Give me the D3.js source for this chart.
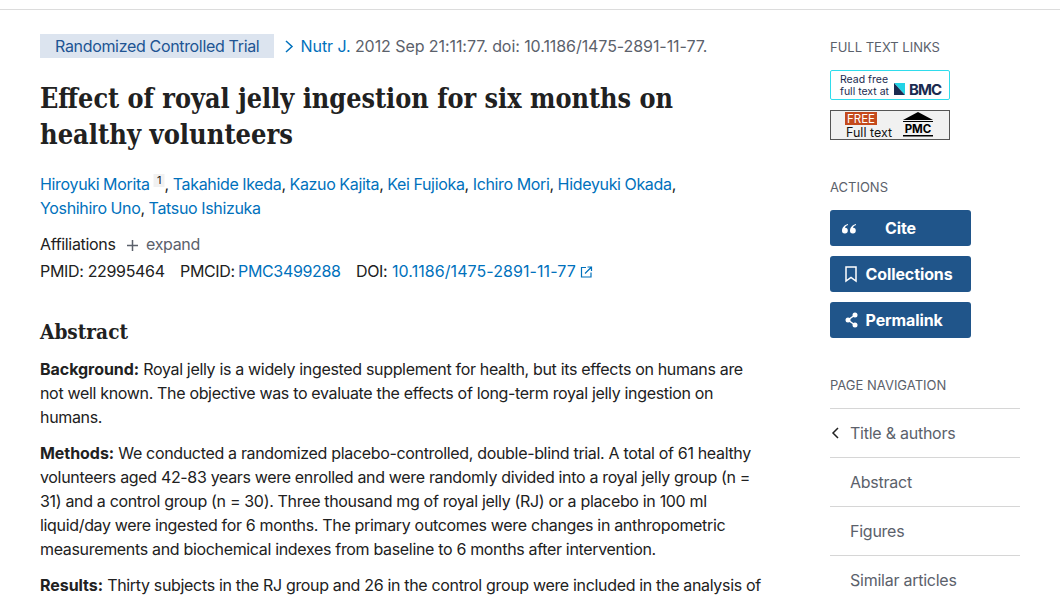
<!DOCTYPE html>
<html>
<head>
<meta charset="utf-8">
<script src="https://cdn.jsdelivr.net/npm/d3@7"></script>
<style>
html, body { margin: 0; padding: 0; background: #fff; overflow: hidden; }
text { font-family: Inter, "Noto Sans", sans-serif; font-size: 16px; fill: #212121; letter-spacing: -0.33px; }
.link { fill: #0071bc; }
.muted { fill: #5b616b; }
.bold { font-weight: 700; letter-spacing: -0.05px; }
.head { font-size: 13px; fill: #5b616b; letter-spacing: 0; }
.nav { font-size: 16px; fill: #5b616b; letter-spacing: -0.25px; }
.btn { font-size: 16px; font-weight: 700; fill: #fff; letter-spacing: -0.1px; }
.cite { letter-spacing: -0.07px; }
.authors { word-spacing: -0.35px; }
.doi { fill: #0071bc; letter-spacing: 0.07px; }
.serif { font-family: "DejaVu Serif", serif; font-weight: 700; letter-spacing: 0; }
</style>
</head>
<body>
<svg id="page" width="1060" height="600"></svg>
<script>
const titleLines = ["Effect of royal jelly ingestion for six months on", "healthy volunteers"];
const titleWidths = [633, 253];

// each line is a list of [text, class] runs
const citeLine = [["Nutr J.", "link"], [" 2012 Sep 21:11:77. doi: 10.1186/1475-2891-11-77.", "muted"]];
const authorLines = [
    [["Hiroyuki Morita", "link"], [",", "gap"], [" Takahide Ikeda", "link"], [",", ""], [" Kazuo Kajita", "link"], [",", ""], [" Kei Fujioka", "link"], [",", ""], [" Ichiro Mori", "link"], [",", ""], [" Hideyuki Okada", "link"], [",", ""]],
    [["Yoshihiro Uno", "link"], [",", ""], [" Tatsuo Ishizuka", "link"]]
];
const idLabels = ["PMID: 22995464", "PMCID:", "DOI:"];
const idLinks = ["PMC3499288", "10.1186/1475-2891-11-77"];
const abstractLines = [
    [[375, "Background:", " Royal jelly is a widely ingested supplement for health, but its effects on humans are"],
     [399, "", "not well known. The objective was to evaluate the effects of long-term royal jelly ingestion on"],
     [423, "", "humans."]],
    [[459, "Methods:", " We conducted a randomized placebo-controlled, double-blind trial. A total of 61 healthy"],
     [483, "", "volunteers aged 42-83 years were enrolled and were randomly divided into a royal jelly group (n ="],
     [507, "", "31) and a control group (n = 30). Three thousand mg of royal jelly (RJ) or a placebo in 100 ml"],
     [531, "", "liquid/day were ingested for 6 months. The primary outcomes were changes in anthropometric"],
     [555, "", "measurements and biochemical indexes from baseline to 6 months after intervention."]],
    [[591, "Results:", " Thirty subjects in the RJ group and 26 in the control group were included in the analysis of"]]
];
const actions = ["Cite", "Collections", "Permalink"];
const navItems = ["Title & authors", "Abstract", "Figures", "Similar articles"];

const svg = d3.select("#page");

function runs(x, y, parts) {
    const t = svg.append("text").attr("x", x).attr("y", y).style("white-space", "pre");
    parts.forEach(p => {
        const s = t.append("tspan").attr("class", p[1]).text(p[0]);
        if (p[1] === "gap") s.attr("dx", 15);
    });
    return t;
}

// top rule
svg.append("rect").attr("x", 0).attr("y", 9).attr("width", 1060).attr("height", 1).attr("fill", "#dcdcdc");

// publication type and citation
svg.append("rect").attr("x", 40).attr("y", 34).attr("width", 234).attr("height", 24).attr("fill", "#dce4ef");
svg.append("text").attr("x", 55).attr("y", 52).style("fill", "#205493").text("Randomized Controlled Trial");
svg.append("path").attr("d", "M286,41 L292,46.5 L286,52").attr("fill", "none").attr("stroke", "#0071bc").attr("stroke-width", 1.5);
runs(300.5, 52, citeLine).attr("class", "cite");

// title
svg.selectAll(".title").data(titleLines).enter().append("text")
    .attr("class", "title serif")
    .attr("x", 40)
    .attr("y", (d, i) => 108 + i * 36)
    .attr("textLength", (d, i) => titleWidths[i])
    .attr("lengthAdjust", "spacingAndGlyphs")
    .style("font-size", "27px")
    .text(d => d);

// authors
authorLines.forEach((l, i) => runs(40, 190 + i * 24, l).attr("class", "authors"));
svg.append("rect").attr("x", 153.5).attr("y", 174).attr("width", 11).attr("height", 13).attr("fill", "#f1f1f1");
svg.append("text").attr("x", 159).attr("y", 184).attr("text-anchor", "middle").style("font-size", "11px").text("1");

// affiliations and ids
svg.append("text").attr("x", 40).attr("y", 250).text("Affiliations");
svg.append("path").attr("d", "M127,245.5 H138 M132.5,240 V251").attr("stroke", "#5b616b").attr("stroke-width", 1.5);
svg.append("text").attr("class", "muted").attr("x", 146).attr("y", 250).text("expand");
svg.append("text").attr("x", 40).attr("y", 277).text(idLabels[0]);
svg.append("text").attr("x", 180).attr("y", 277).text(idLabels[1]);
svg.append("text").attr("class", "link").attr("x", 238).attr("y", 277).text(idLinks[0]);
svg.append("text").attr("x", 356).attr("y", 277).text(idLabels[2]);
svg.append("text").attr("class", "doi").attr("x", 392).attr("y", 277).text(idLinks[1]);
svg.append("path").attr("d", "M586,267.5 H581.5 V277 H591 V272.5 M585,273.5 L591,267.5 M587.5,267 H591.5 V271")
    .attr("fill", "none").attr("stroke", "#0071bc").attr("stroke-width", 1.2);

// abstract
svg.append("text").attr("class", "serif").attr("x", 40).attr("y", 339)
    .attr("textLength", 88).attr("lengthAdjust", "spacingAndGlyphs")
    .style("font-size", "20px").text("Abstract");
abstractLines.forEach(par => par.forEach(l => {
    const t = svg.append("text").attr("x", 40).attr("y", l[0]).style("white-space", "pre");
    t.append("tspan").attr("class", "bold").text(l[1]);
    t.append("tspan").text(l[2]);
}));

// sidebar: full text links
svg.append("text").attr("class", "head").attr("x", 830).attr("y", 52).text("FULL TEXT LINKS");
svg.append("rect").attr("x", 830.5).attr("y", 70.5).attr("width", 119).attr("height", 29).attr("rx", 1.5)
    .attr("fill", "#fff").attr("stroke", "#2fdcec");
svg.append("text").attr("x", 840).attr("y", 83).style("font-size", "10.5px").style("fill", "#1a2b50").style("letter-spacing", "0").text("Read free");
svg.append("text").attr("x", 840).attr("y", 95).style("font-size", "10.5px").style("fill", "#1a2b50").style("letter-spacing", "0").text("full text at");
svg.append("path").attr("d", "M894,83 H905 V95 Z").attr("fill", "#22d3e6");
svg.append("path").attr("d", "M894,83 L905,95 H894 Z").attr("fill", "#1a2b50");
svg.append("text").attr("x", 909).attr("y", 95).style("font-size", "15px").style("font-weight", 700).style("fill", "#1a2b50").style("letter-spacing", "-1px").text("BMC");

svg.append("rect").attr("x", 830.5).attr("y", 110.5).attr("width", 119).attr("height", 29)
    .attr("fill", "#f1f1f1").attr("stroke", "#555");
svg.append("rect").attr("x", 845).attr("y", 112).attr("width", 32).attr("height", 13).attr("fill", "#c44a1c");
svg.append("text").attr("x", 847).attr("y", 123).style("font-size", "11.5px").style("fill", "#fff").style("letter-spacing", "0").text("FREE");
svg.append("text").attr("x", 846).attr("y", 137).style("font-size", "12.5px").style("fill", "#111").style("letter-spacing", "0").text("Full text");
svg.append("path").attr("d", "M903,120 L918,112 L933,120 Z").attr("fill", "#000");
svg.append("rect").attr("x", 903).attr("y", 121).attr("width", 30).attr("height", 1).attr("fill", "#000");
svg.append("rect").attr("x", 903).attr("y", 135).attr("width", 30).attr("height", 1.5).attr("fill", "#000");
svg.append("text").attr("x", 918).attr("y", 133).attr("text-anchor", "middle").style("font-size", "11.5px").style("font-weight", 700).style("fill", "#000").style("letter-spacing", "0").text("PMC");

// sidebar: actions
svg.append("text").attr("class", "head").attr("x", 830).attr("y", 192).text("ACTIONS");
const btnY = d3.scalePoint().domain(actions).range([210, 302]);
svg.selectAll(".bg").data(actions).enter().append("rect")
    .attr("class", "bg").attr("x", 830).attr("y", d => btnY(d)).attr("width", 141).attr("height", 36).attr("rx", 3).attr("fill", "#20558a");
svg.selectAll(".btn").data(actions).enter().append("text")
    .attr("class", "btn")
    .attr("x", d => d === "Cite" ? 885 : 865.5)
    .attr("y", d => btnY(d) + 24)
    .text(d => d);
// quote mark on Cite
svg.selectAll(".quote").data([842, 850]).enter().append("path")
    .attr("class", "quote")
    .attr("d", d => `M${d + 6},224 C${d + 2},225 ${d},228 ${d},230.5 a2.9,2.9 0 1 0 3,-2.7 C${d + 3},226.5 ${d + 4.5},225.5 ${d + 6},225 Z`)
    .attr("fill", "#fff");
svg.append("path").attr("d", "M846,267 H856 V281 L851,277.5 L846,281 Z").attr("fill", "none").attr("stroke", "#fff").attr("stroke-width", 1.5);
svg.append("path").attr("d", "M855,315 L848,320 L855,325").attr("fill", "none").attr("stroke", "#fff").attr("stroke-width", 1.5);
svg.selectAll(".dot").data([[855, 315], [848, 320], [855, 325]]).enter().append("circle")
    .attr("class", "dot").attr("cx", d => d[0]).attr("cy", d => d[1]).attr("r", 2.5).attr("fill", "#fff");

// sidebar: page navigation
svg.append("text").attr("class", "head").attr("x", 830).attr("y", 390).text("PAGE NAVIGATION");
const navY = d3.scaleBand().domain(navItems).range([408.5, 604.5]);
svg.selectAll(".rule").data(navItems).enter().append("line")
    .attr("class", "rule").attr("x1", 830).attr("x2", 1020)
    .attr("y1", d => navY(d)).attr("y2", d => navY(d)).attr("stroke", "#d6d6d6");
svg.selectAll(".nav").data(navItems).enter().append("text")
    .attr("class", "nav").attr("x", 850).attr("y", d => navY(d) + 30).text(d => d);
svg.append("path").attr("d", "M838,428 L833,433 L838,438").attr("fill", "none").attr("stroke", "#212121").attr("stroke-width", 1.5);
</script>
</body>
</html>
